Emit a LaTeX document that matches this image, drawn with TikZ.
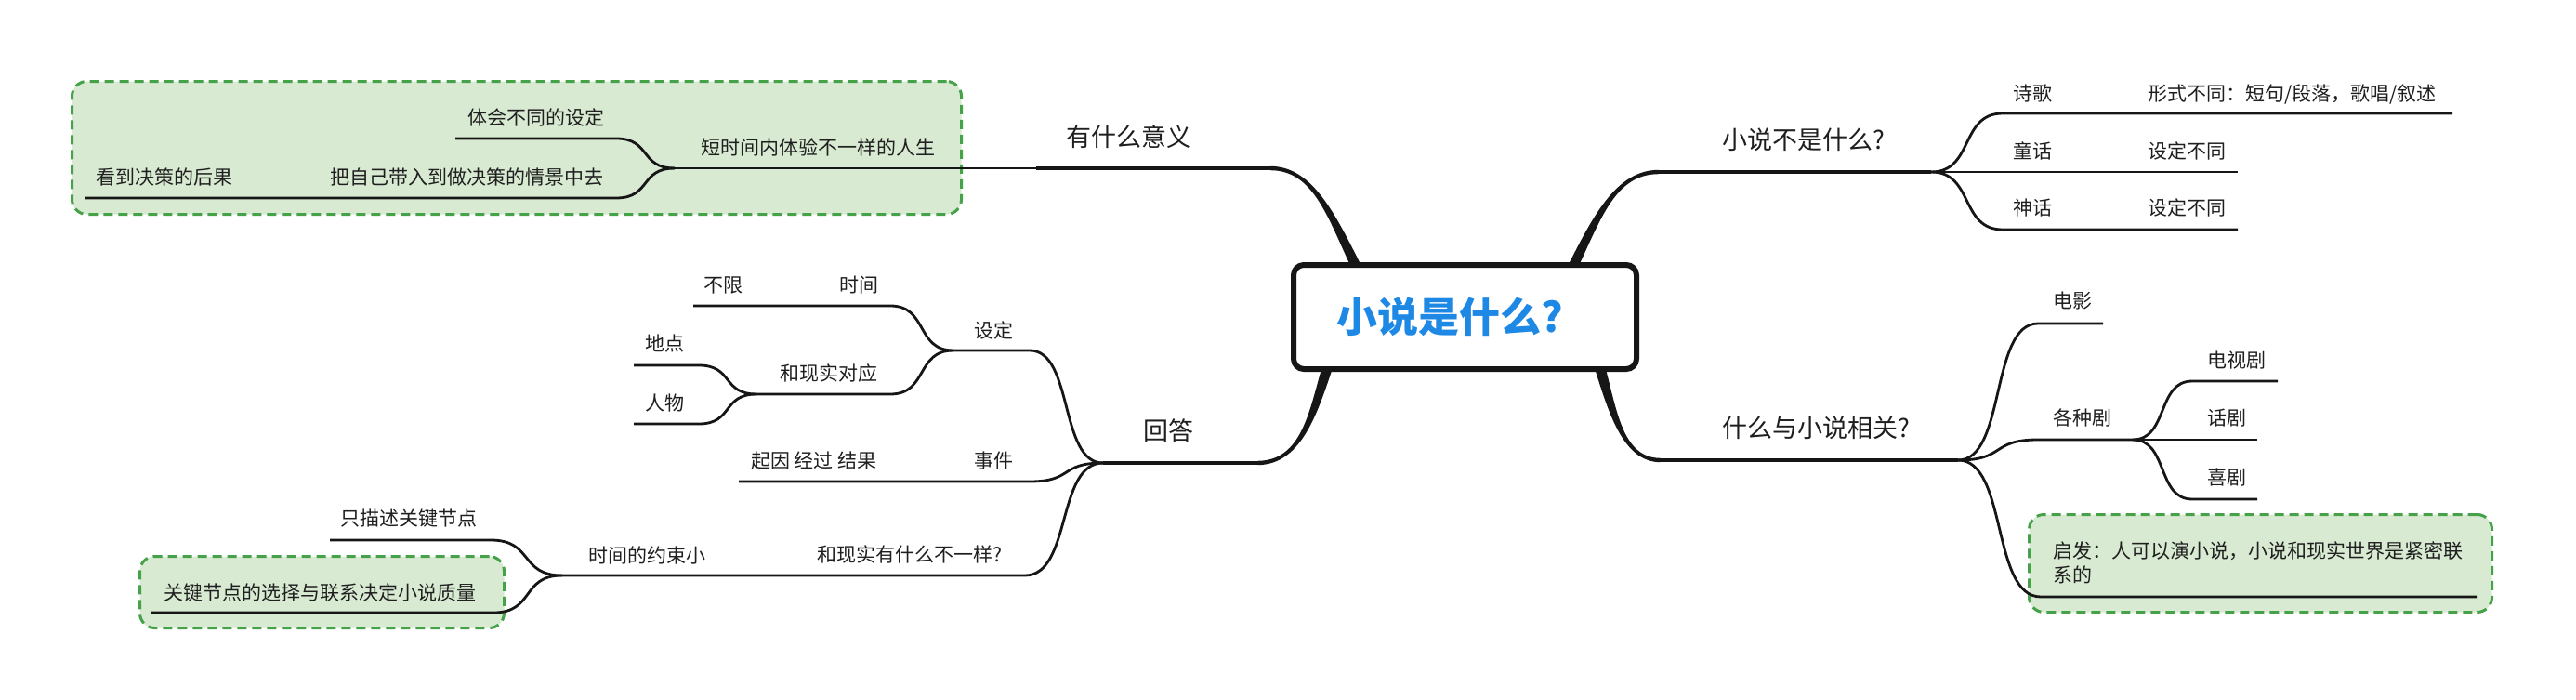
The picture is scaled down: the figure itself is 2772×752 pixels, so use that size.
\documentclass[tikz,border=0pt]{standalone}
\usepackage{fontspec}
\setmainfont{Noto Sans CJK SC}
\usetikzlibrary{calc}
\definecolor{linec}{HTML}{161616}
\definecolor{txtc}{HTML}{1F1F1F}
\definecolor{gfill}{HTML}{D9EAD3}
\definecolor{gdraw}{HTML}{45A249}
\definecolor{titlec}{HTML}{1E88E5}
\tikzset{
  ctext/.style={anchor=west, inner sep=0pt, text=txtc, font=\fontsize{21}{25}\selectfont, text height=17.5pt, text depth=1.5pt},
  btext/.style={anchor=west, inner sep=0pt, text=txtc, font=\fontsize{27}{30}\selectfont, text height=22.5pt, text depth=2pt},
  ln/.style={draw=linec, line width=2.8pt},
  bln/.style={draw=linec, line width=4.4pt},
  gbox/.style={fill=gfill, draw=gdraw, line width=3pt, dash pattern=on 10pt off 6pt, rounded corners=16pt, inner sep=0pt},
  sbend/.style={to path={.. controls ($(\tikztostart)!0.6!(\tikztotarget|-\tikztostart)$) and ($(\tikztotarget)!0.6!(\tikztostart|-\tikztotarget)$) .. (\tikztotarget)}},
}
\begin{document}
\begin{tikzpicture}[x=1pt,y=-1pt]
\useasboundingbox (0,0) rectangle (2772,752);
\fill[white] (0,0) rectangle (2772,752);

% green boxes
\node[gbox, minimum width=957pt, minimum height=143pt] (g1) at (556,159) {};
\node[gbox, minimum width=498pt, minimum height=105pt] (g2) at (2432.5,606) {};
\node[gbox, minimum width=392pt, minimum height=77pt] (g3) at (346.5,637) {};

% ---------- coordinates ----------
% top-left branch
\coordinate (tlS) at (1462,292); \coordinate (tlC1) at (1434,235);
\coordinate (tlC2) at (1414,181); \coordinate (tlE) at (1367,181);
\coordinate (tlJ) at (1115,181); \coordinate (j1) at (726,181);
\coordinate (a1) at (663,149); \coordinate (a1e) at (490,149);
\coordinate (a2) at (663,213); \coordinate (a2e) at (342,213);
\coordinate (a3e) at (92,213);
% top-right branch
\coordinate (trS) at (1690,292); \coordinate (trC1) at (1718,235);
\coordinate (trC2) at (1738,185); \coordinate (trE) at (1785,185);
\coordinate (trJ) at (2078,185);
\coordinate (b1) at (2155,122); \coordinate (b1j) at (2300,122); \coordinate (b1e) at (2639,122);
\coordinate (b2j) at (2300,185); \coordinate (b2e) at (2408,185);
\coordinate (b3) at (2155,247); \coordinate (b3j) at (2300,247); \coordinate (b3e) at (2408,247);
% bottom-right branch
\coordinate (brS) at (1720,390); \coordinate (brC1) at (1735,440);
\coordinate (brC2) at (1745,495); \coordinate (brE) at (1787,495);
\coordinate (brJ) at (2107,495);
\coordinate (c1) at (2193,348); \coordinate (c1e) at (2263,348);
\coordinate (c2) at (2193,473); \coordinate (gzJ) at (2295,473);
\coordinate (d1) at (2359,410); \coordinate (d1e) at (2451,410);
\coordinate (d2e) at (2429,473);
\coordinate (d3) at (2359,537); \coordinate (d3e) at (2429,537);
\coordinate (c3) at (2196,642); \coordinate (c3e) at (2666,642);
% bottom-left branch
\coordinate (blS) at (1430,390); \coordinate (blC1) at (1414,440);
\coordinate (blC2) at (1402,498); \coordinate (blE) at (1353,498);
\coordinate (blJ) at (1187,498);
\coordinate (e1) at (1108,377); \coordinate (sdJ) at (1026,377);
\coordinate (f1) at (958,329); \coordinate (f1j) at (890,329); \coordinate (f1e) at (746,329);
\coordinate (f2) at (958,424); \coordinate (dJ) at (814,424);
\coordinate (h1) at (752,393); \coordinate (h1e) at (682,393);
\coordinate (h2) at (752,456); \coordinate (h2e) at (682,456);
\coordinate (e2) at (1108,518); \coordinate (e2j) at (1040,518); \coordinate (e2e) at (795,518);
\coordinate (e3) at (1103,619); \coordinate (e3j) at (870,619); \coordinate (tJ) at (605,619);
\coordinate (k1) at (528,581); \coordinate (k1e) at (355,581);
\coordinate (k2) at (531,659); \coordinate (k2e) at (163,659);

% ---------- connectors ----------
% top-left
\draw[bln] (tlE) -- (tlJ);
\draw[ln] (tlJ) -- (j1);
\draw[ln] (j1) to[sbend] (a1) -- (a1e);
\draw[ln] (j1) to[sbend] (a2) -- (a2e) -- (a3e);
% top-right
\draw[bln] (trE) -- (trJ);
\draw[ln] (trJ) to[sbend] (b1) -- (b1j) -- (b1e);
\draw[ln] (trJ) -- (b2j) -- (b2e);
\draw[ln] (trJ) to[sbend] (b3) -- (b3j) -- (b3e);
% bottom-right
\draw[bln] (brE) -- (brJ);
\draw[ln] (brJ) to[sbend] (c1) -- (c1e);
\draw[ln] (brJ) to[sbend] (c2) -- (gzJ);
\draw[ln] (gzJ) to[sbend] (d1) -- (d1e);
\draw[ln] (gzJ) -- (d2e);
\draw[ln] (gzJ) to[sbend] (d3) -- (d3e);
\draw[ln] (brJ) to[sbend] (c3) -- (c3e);
% bottom-left
\draw[bln] (blE) -- (blJ);
\draw[ln] (blJ) to[sbend] (e1) -- (sdJ);
\draw[ln] (sdJ) to[sbend] (f1) -- (f1j) -- (f1e);
\draw[ln] (sdJ) to[sbend] (f2) -- (dJ);
\draw[ln] (dJ) to[sbend] (h1) -- (h1e);
\draw[ln] (dJ) to[sbend] (h2) -- (h2e);
\draw[ln] (blJ) to[sbend] (e2) -- (e2j) -- (e2e);
\draw[ln] (blJ) to[sbend] (e3) -- (e3j) -- (tJ);
\draw[ln] (tJ) to[sbend] (k1) -- (k1e);
\draw[ln] (tJ) to[sbend] (k2) -- (k2e);

% tapered main branches
\fill[linec] ($(tlS)+(6,0)$) .. controls ($(tlC1)+(5,0)$) and ($(tlC2)+(0,-2.2)$) .. ($(tlE)+(0,-2.2)$) -- ($(tlE)+(0,2.2)$) .. controls ($(tlC2)+(0,2.2)$) and ($(tlC1)+(-5,0)$) .. ($(tlS)+(-6,0)$) -- cycle;
\fill[linec] ($(trS)+(-6,0)$) .. controls ($(trC1)+(-5,0)$) and ($(trC2)+(0,-2.2)$) .. ($(trE)+(0,-2.2)$) -- ($(trE)+(0,2.2)$) .. controls ($(trC2)+(0,2.2)$) and ($(trC1)+(5,0)$) .. ($(trS)+(6,0)$) -- cycle;
\fill[linec] ($(brS)+(6,0)$) .. controls ($(brC1)+(5,0)$) and ($(brC2)+(0,-2.2)$) .. ($(brE)+(0,-2.2)$) -- ($(brE)+(0,2.2)$) .. controls ($(brC2)+(0,2.2)$) and ($(brC1)+(-5,0)$) .. ($(brS)+(-6,0)$) -- cycle;
\fill[linec] ($(blS)+(-6,0)$) .. controls ($(blC1)+(-5,0)$) and ($(blC2)+(0,-2.2)$) .. ($(blE)+(0,-2.2)$) -- ($(blE)+(0,2.2)$) .. controls ($(blC2)+(0,2.2)$) and ($(blC1)+(5,0)$) .. ($(blS)+(6,0)$) -- cycle;

% central node
\node[draw=linec, fill=white, line width=6pt, rounded corners=11pt, minimum width=369pt, minimum height=112pt, inner sep=0pt,
      text=titlec, font=\fontsize{44}{48}\selectfont\bfseries] (root) at (1576.5,341) {小说是什么?\kern32pt};

% ---------- texts ----------
\node[btext] (nyou) at (1147,147) {有什么意义};
\node[ctext] (nduan) at (754,158) {短时间内体验不一样的人生};
\node[ctext] (ntihui) at (503,126) {体会不同的设定};
\node[ctext] (nba) at (355,190) {把自己带入到做决策的情景中去};
\node[ctext] (nkan) at (103,190) {看到决策的后果};

\node[btext] (nbushi) at (1853,150) {小说不是什么?};
\node[ctext] (nshige) at (2166,100) {诗歌};
\node[ctext] (nxingshi) at (2311,100) {形式不同：短句/段落，歌唱/叙述};
\node[ctext] (ntonghua) at (2166,162) {童话};
\node[ctext] (nsd1) at (2311,162) {设定不同};
\node[ctext] (nshenhua) at (2166,223) {神话};
\node[ctext] (nsd2) at (2311,223) {设定不同};

\node[btext] (nxiangguan) at (1853,460) {什么与小说相关?};
\node[ctext] (ndianying) at (2209,323) {电影};
\node[ctext] (ngezhong) at (2209,449) {各种剧};
\node[ctext] (ndsj) at (2375,387) {电视剧};
\node[ctext] (nhuaju) at (2375,449) {话剧};
\node[ctext] (nxiju) at (2375,513) {喜剧};
\node[ctext] (nqifa1) at (2209,592) {启发：人可以演小说，小说和现实世界是紧密联};
\node[ctext] (nqifa2) at (2209,618) {系的};

\node[btext] (nhuida) at (1230,463) {回答};
\node[ctext] (nsheding) at (1048,355) {设定};
\node[ctext] (nshijian) at (903,306) {时间};
\node[ctext] (nbuxian) at (757,306) {不限};
\node[ctext] (nduiying) at (839,401) {和现实对应};
\node[ctext] (ndidian) at (694,369) {地点};
\node[ctext] (nrenwu) at (694,433) {人物};
\node[ctext] (nshijian2) at (1048,495) {事件};
\node[ctext] (nqiyin) at (808,495) {起因 经过 结果};
\node[ctext] (nbuyiyang) at (879,596) {和现实有什么不一样?};
\node[ctext] (nyueshu) at (633,597) {时间的约束小};
\node[ctext] (nmiaoshu) at (366,557) {只描述关键节点};
\node[ctext] (nguanjian) at (176,637) {关键节点的选择与联系决定小说质量};
\end{tikzpicture}
\end{document}
